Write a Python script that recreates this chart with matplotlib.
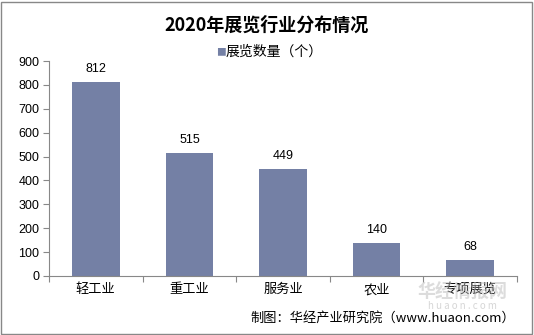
import matplotlib
matplotlib.use("Agg")
import matplotlib.pyplot as plt
from matplotlib.patches import Rectangle

plt.rcParams['font.family'] = ['Noto Sans CJK SC', 'DejaVu Sans']

categories = ['轻工业', '重工业', '服务业', '农业', '专项展览']
values = [812, 515, 449, 140, 68]
yticks = [0, 100, 200, 300, 400, 500, 600, 700, 800, 900]

bar_color = '#7480A5'
W, H = 534, 335
fig = plt.figure(figsize=(W / 100, H / 100), dpi=100)
fig.patch.set_facecolor('white')

# outer frame
fig.add_artist(Rectangle((1 / W, 1 / H), 1 - 3 / W, 1 - 3 / H, transform=fig.transFigure,
                         fill=False, edgecolor='#888888', linewidth=1))

ax = fig.add_axes([49 / W, 1 - 276 / H, (517 - 49) / W, (276 - 61) / H])
x = list(range(len(categories)))
bars = ax.bar(x, values, width=0.51, color=bar_color, zorder=2)
ax.set_xlim(-0.5, len(categories) - 0.5)
ax.set_ylim(0, 900)
ax.set_yticks(yticks)
ax.set_yticklabels([str(t) for t in yticks], fontsize=9, family='Liberation Sans')

for s in ['top', 'right']:
    ax.spines[s].set_visible(False)
for s in ['left', 'bottom']:
    ax.spines[s].set_color('#888888')
    ax.spines[s].set_linewidth(0.8)

ax.tick_params(axis='y', direction='out', length=4, color='#888888', pad=3)
ax.set_xticks([i + 0.5 for i in range(-1, len(categories))])
ax.set_xticklabels([])
ax.tick_params(axis='x', direction='out', length=4, color='#888888')
for i, c in enumerate(categories):
    ax.text(i, -30, c, ha='center', va='top', fontsize=9.5, transform=ax.transData)

for i, v in enumerate(values):
    ax.text(i, v + 28, str(v), ha='center', va='bottom', fontsize=9, family='Liberation Sans')

fig.text(0.5, 1 - 25 / H, '2020年展览行业分布情况', ha='center', va='center',
         fontsize=13, fontweight='bold')
fig.text(216 / W, 1 - 52 / H, '■', ha='left', va='center', fontsize=7, color=bar_color)
fig.text(226 / W, 1 - 52 / H, '展览数量（个）', ha='left', va='center', fontsize=10)

# watermark
fig.text(462 / W, 1 - 292 / H, '华经情报网', ha='center', va='center', fontsize=13,
         fontweight='bold', color='#bbbbbb', alpha=0.5)
fig.text(462 / W, 1 - 306 / H, 'h u a o n . c o m', ha='center', va='center', fontsize=7,
         color='#bbbbbb', alpha=0.6)

fig.text(515 / W, 1 - 318 / H, '制图：华经产业研究院（www.huaon.com）', ha='right', va='center',
         fontsize=9.5)

fig.savefig('out.png', dpi=100)
